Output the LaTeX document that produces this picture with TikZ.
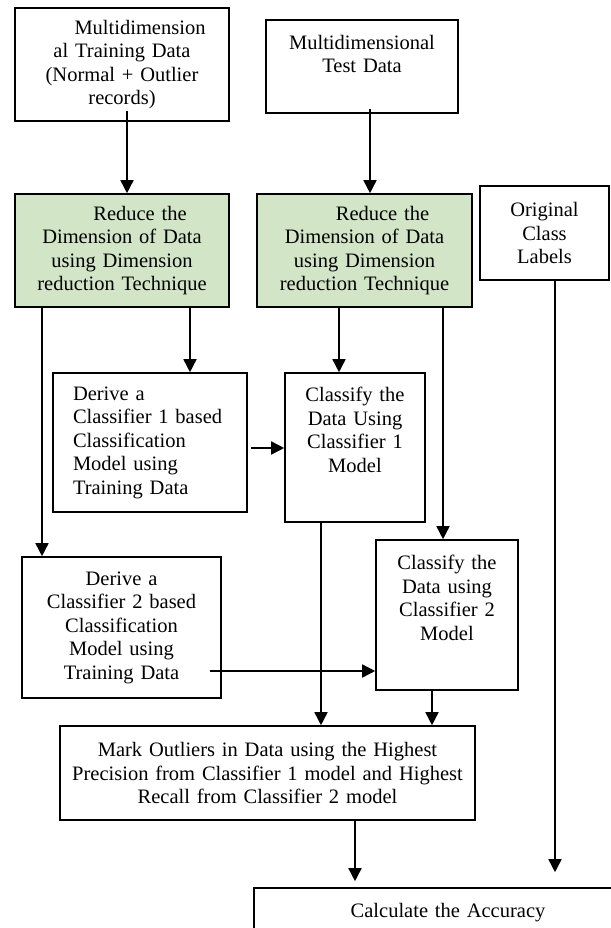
\documentclass[tikz,border=0pt]{standalone}
\usepackage{fontspec}
\setmainfont{Liberation Serif}
\usetikzlibrary{arrows.meta}
\definecolor{dimgreen}{RGB}{210,229,199}

\begin{document}
\begin{tikzpicture}[x=1pt,y=-1pt,
  flow_box/.style={draw,line width=1.6pt,inner sep=4pt,align=center,font=\fontsize{20.5}{23.5}\selectfont},
  green_box/.style={flow_box,fill=dimgreen},
  arr/.style={line width=1.6pt,-{Triangle[width=13pt,length=13pt]}}]
\useasboundingbox (0,0) rectangle (610,928);
% input data and labels
\node[flow_box,minimum width=214pt,minimum height=113pt,text width=204pt] (train) at (122,64.5) {\hspace*{36pt}Multidimension\\al Training Data\\(Normal + Outlier\\records)};
\node[flow_box,minimum width=192pt,minimum height=93pt,text width=182pt] (test) at (362,66.5) {Multidimensional\\Test Data\\[2pt]\mbox{}};
\node[flow_box,minimum width=129pt,minimum height=94pt,text width=119pt] (labels) at (544.5,233) {Original\\Class\\Labels};
% dimension reduction
\node[green_box,minimum width=214pt,minimum height=113pt,text width=204pt] (redtrain) at (122,250.5) {\hspace*{36pt}Reduce the\\Dimension of Data\\using Dimension\\reduction Technique};
\node[green_box,minimum width=215pt,minimum height=113pt,text width=205pt] (redtest) at (364.5,250.5) {\hspace*{36pt}Reduce the\\Dimension of Data\\using Dimension\\reduction Technique};
% classifiers
\node[flow_box,align=left,inner xsep=20pt,minimum width=194pt,minimum height=139pt,text width=154pt] (deriveA) at (150,442.5) {Derive a\\Classifier 1 based\\Classification\\Model using\\Training Data};
\node[flow_box,minimum width=140pt,minimum height=149pt,text width=130pt] (classA) at (355,447.5) {Classify the\\Data Using\\Classifier 1\\Model\\[12pt]\mbox{}};
\node[flow_box,minimum width=199pt,minimum height=141pt,text width=189pt] (deriveB) at (121.5,627.5) {Derive a\\Classifier 2 based\\Classification\\Model using\\Training Data};
\node[flow_box,minimum width=142pt,minimum height=150pt,text width=132pt] (classB) at (447,615) {Classify the\\Data using\\Classifier 2\\Model\\[11pt]\mbox{}};
% result
\node[flow_box,minimum width=415pt,minimum height=94pt,text width=405pt] (mark) at (267.5,773) {Mark Outliers in Data using the Highest\\Precision from Classifier 1 model and Highest\\Recall from Classifier 2 model};
\node[flow_box,minimum width=388pt,minimum height=80pt,text width=378pt] (acc) at (448,928) {Calculate the Accuracy\\[12pt]\mbox{}};
% connectors
\coordinate (a1) at ([shift={(5pt,11pt)}]train.south);
\draw[arr] (a1) -- (a1 |- redtrain.north);
\coordinate (a2) at ([shift={(8pt,5pt)}]test.south);
\draw[arr] (a2) -- (a2 |- redtest.north);
\coordinate (a3) at ([xshift=-80pt]redtrain.south);
\draw[arr] (a3) -- (a3 |- deriveB.north);
\coordinate (a4) at ([xshift=68pt]redtrain.south);
\draw[arr] (a4) -- (a4 |- deriveA.north);
\coordinate (a5) at ([xshift=-25.5pt]redtest.south);
\draw[arr] (a5) -- (a5 |- classA.north);
\coordinate (a6) at ([xshift=78.5pt]redtest.south);
\draw[arr] (a6) -- (a6 |- classB.north);
\coordinate (a7) at ([shift={(3pt,-5.5pt)}]deriveA.east);
\draw[arr] (a7) -- (a7 -| classA.west);
\coordinate (a8) at ([shift={(-12pt,-43.5pt)}]deriveB.east);
\draw[arr] (a8) -- (a8 -| classB.west);
\coordinate (a9) at ([xshift=-34pt]classA.south);
\draw[arr] (a9) -- (a9 |- mark.north);
\coordinate (a10) at ([xshift=-15pt]classB.south);
\draw[arr] (a10) -- (a10 |- mark.north);
\coordinate (a11) at ([xshift=87.5pt]mark.south);
\draw[arr,shorten >=6pt] (a11) -- (a11 |- acc.north);
\coordinate (a12) at ([xshift=10.5pt]labels.south);
\draw[arr,shorten >=15pt] (a12) -- (a12 |- acc.north);
\end{tikzpicture}
\end{document}
